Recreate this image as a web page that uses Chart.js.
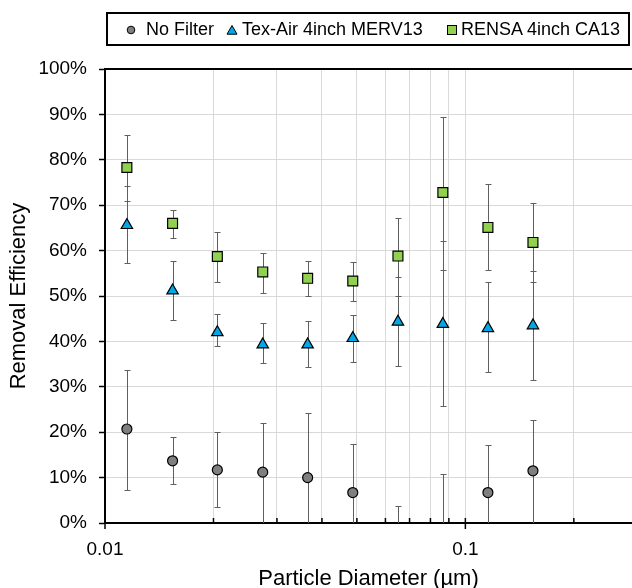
<!DOCTYPE html>
<html>
<head>
<meta charset="utf-8">
<script src="https://cdn.jsdelivr.net/npm/chart.js@4.4.1/dist/chart.umd.min.js"></script>
<style>
  html, body { margin: 0; padding: 0; background: #fff; }
  #wrap { position: relative; width: 632px; height: 588px; }
  #grafico { display: block; }
  #legend {
    position: absolute; left: 106px; top: 12px; width: 524px; height: 34px;
    border: 2px solid #000; box-sizing: border-box;
    font-family: "Liberation Sans", Arial, sans-serif; font-size: 18px; color: #000;
  }
  .item { position: absolute; top: 0; height: 30px; display: flex; align-items: center; white-space: nowrap; }
  .item svg { position: absolute; top: 10px; }
  .item span { position: absolute; white-space: nowrap; }
</style>
</head>
<body>
<div id="wrap">
  <canvas id="grafico" width="632" height="588"></canvas>
  <div id="legend"></div>
</div>
<script>
// datos (eficiencia en %)
const diametros = [0.0115, 0.0154, 0.0205, 0.0274, 0.0365, 0.0487, 0.065, 0.0866, 0.1155, 0.154];
const nombres = ["No Filter", "Tex-Air 4inch MERV13", "RENSA 4inch CA13"];

const sinFiltro      = [20.7, 13.7, 11.7, 11.2, 10.0, 6.7, -5.0, -5.0, 6.7, 11.5];
const sinFiltroAlto  = [33.8, 18.9, 20.0, 22.0, 24.3, 17.3, 3.7, 10.8, 17.2, 22.6];
const sinFiltroBajo  = [7.3, 8.6, 3.5, -0.5, -4.0, -4.0, -13.0, -20.0, -4.0, -0.5];

const texAir         = [65.6, 51.2, 42.0, 39.3, 39.3, 40.7, 44.3, 43.8, 42.9, 43.5];
const texAirAlto     = [74.3, 57.8, 46.0, 44.0, 44.5, 45.9, 54.1, 62.2, 53.0, 55.6];
const texAirBajo     = [57.3, 44.8, 38.9, 35.2, 34.4, 35.5, 34.6, 25.7, 33.3, 31.6];

const rensa          = [78.3, 66.0, 58.7, 55.3, 53.9, 53.3, 58.8, 72.8, 65.1, 61.8];
const rensaAlto      = [85.5, 69.0, 64.0, 59.5, 57.7, 57.4, 67.2, 89.5, 74.6, 70.4];
const rensaBajo      = [71.0, 62.8, 53.0, 50.7, 49.9, 49.0, 50.1, 55.8, 55.8, 53.0];

const ticksX = [0.01, 0.02, 0.03, 0.04, 0.05, 0.06, 0.07, 0.08, 0.09, 0.1, 0.2];
const etiquetasX = ["0.01", "", "", "", "", "", "", "", "", "0.1", ""];
const ticksY = [0, 10, 20, 30, 40, 50, 60, 70, 80, 90, 100];

const fuente = '"Liberation Sans", Arial, sans-serif';
Chart.defaults.font.family = fuente;
Chart.defaults.color = "#000";

const puntos = vals => vals.map((v, i) => ({ x: diametros[i], y: v }));

const series = [
  { label: nombres[0], data: puntos(sinFiltro), alto: sinFiltroAlto, bajo: sinFiltroBajo,
    pointStyle: "circle", pointRadius: 5, backgroundColor: "#7f7f7f" },
  { label: nombres[1], data: puntos(texAir), alto: texAirAlto, bajo: texAirBajo,
    pointStyle: "triangle", pointRadius: 6.6, backgroundColor: "#00a8e8" },
  { label: nombres[2], data: puntos(rensa), alto: rensaAlto, bajo: rensaBajo,
    pointStyle: "rect", pointRadius: 7, backgroundColor: "#92d050" }
];
series.forEach(s => {
  s.borderColor = "#000";
  s.borderWidth = 1;
  s.pointBorderWidth = 1.2;
  s.pointHoverRadius = s.pointRadius;
  s.showLine = false;
});

// barras de error (detras de los marcadores)
const barrasError = {
  id: "barrasError",
  beforeDatasetsDraw(chart) {
    const { ctx, chartArea: a, scales: { x, y } } = chart;
    ctx.save();
    ctx.beginPath();
    ctx.rect(a.left, a.top, a.right - a.left, a.bottom - a.top);
    ctx.clip();
    ctx.strokeStyle = "#5f5f5f";
    ctx.lineWidth = 1;
    chart.data.datasets.forEach(ds => {
      ds.data.forEach((p, i) => {
        const px = Math.round(x.getPixelForValue(p.x)) + 0.5;
        const arriba = Math.round(y.getPixelForValue(ds.alto[i])) + 0.5;
        const abajo = Math.round(y.getPixelForValue(ds.bajo[i])) + 0.5;
        ctx.beginPath();
        ctx.moveTo(px, arriba); ctx.lineTo(px, abajo);
        ctx.moveTo(px - 3, arriba); ctx.lineTo(px + 3, arriba);
        ctx.moveTo(px - 3, abajo); ctx.lineTo(px + 3, abajo);
        ctx.stroke();
      });
    });
    ctx.restore();
  }
};

// borde superior y marcas del eje x
const bordes = {
  id: "bordes",
  afterDraw(chart) {
    const { ctx, chartArea: a, scales: { x } } = chart;
    ctx.save();
    ctx.strokeStyle = "#000";
    ctx.lineWidth = 2;
    ctx.beginPath();
    ctx.moveTo(a.left - 1, a.top);
    ctx.lineTo(a.right, a.top);
    ctx.stroke();
    ctx.lineWidth = 1.5;
    x.ticks.forEach((t, i) => {
      const px = x.getPixelForValue(t.value);
      const mayor = etiquetasX[i] !== "";
      ctx.beginPath();
      ctx.moveTo(px, a.bottom - 5);
      ctx.lineTo(px, a.bottom + (mayor ? 6 : 0));
      ctx.stroke();
    });
    ctx.restore();
  }
};

const ctx = document.getElementById("grafico").getContext("2d");
const grafico = new Chart(ctx, {
  type: "scatter",
  data: { datasets: series },
  options: {
    responsive: false,
    animation: false,
    devicePixelRatio: 1,
    layout: { autoPadding: false, padding: { top: 69, left: 0, right: 0, bottom: 0 } },
    plugins: { legend: { display: false }, tooltip: { enabled: false } },
    scales: {
      x: {
        type: "logarithmic",
        min: 0.01,
        max: 0.29,
        afterBuildTicks: s => { s.ticks = ticksX.map(v => ({ value: v })); },
        afterFit: s => { s.height = 65; s.paddingRight = 0; s.paddingLeft = 0; },
        ticks: {
          autoSkip: false, maxRotation: 0, padding: 15,
          font: { size: 19 }, color: "#000",
          callback: (v, i) => etiquetasX[i]
        },
        grid: { color: "#d9d9d9", drawTicks: false },
        border: { color: "#000", width: 2 },
        title: {
          display: true, text: "Particle Diameter (µm)", color: "#000",
          font: { size: 22, lineHeight: 1 }, padding: { top: 0, bottom: -2 }
        }
      },
      y: {
        min: 0,
        max: 100,
        afterBuildTicks: s => { s.ticks = ticksY.map(v => ({ value: v })); },
        afterFit: s => { s.width = 105; },
        ticks: {
          padding: 12, font: { size: 19 }, color: "#000",
          callback: v => v + "%"
        },
        grid: { color: "#d9d9d9", tickColor: "#000", tickLength: 6, tickWidth: 1.5 },
        border: { color: "#000", width: 2 },
        title: {
          display: true, text: "Removal Efficiency", color: "#000",
          font: { size: 22, lineHeight: 1.2 }, padding: { top: 6, bottom: 0 }
        }
      }
    }
  },
  plugins: [barrasError, bordes]
});

// leyenda en html, a partir de las series
const posLeyenda = [{ marca: 131, texto: 146 }, { marca: 232, texto: 242 }, { marca: 452, texto: 461 }];
const leyenda = document.getElementById("legend");
const marcador = (s, cx) => {
  const left = cx - 108 - 6;
  if (s.pointStyle === "circle")
    return `<svg style="left:${left}px" width="12" height="12"><circle cx="6" cy="6" r="3.8" fill="${s.backgroundColor}" stroke="#000" stroke-width="1"/></svg>`;
  if (s.pointStyle === "triangle")
    return `<svg style="left:${left}px" width="12" height="12"><polygon points="6,1.5 11,10.2 1,10.2" fill="${s.backgroundColor}" stroke="#000" stroke-width="1"/></svg>`;
  return `<svg style="left:${left}px" width="12" height="12"><rect x="1.5" y="1.5" width="9" height="9" fill="${s.backgroundColor}" stroke="#000" stroke-width="1"/></svg>`;
};
series.forEach((s, i) => {
  const p = posLeyenda[i];
  leyenda.innerHTML += `<div class="item" style="left:0">${marcador(s, p.marca)}<span style="left:${p.texto - 108}px">${s.label}</span></div>`;
});
</script>
</body>
</html>
